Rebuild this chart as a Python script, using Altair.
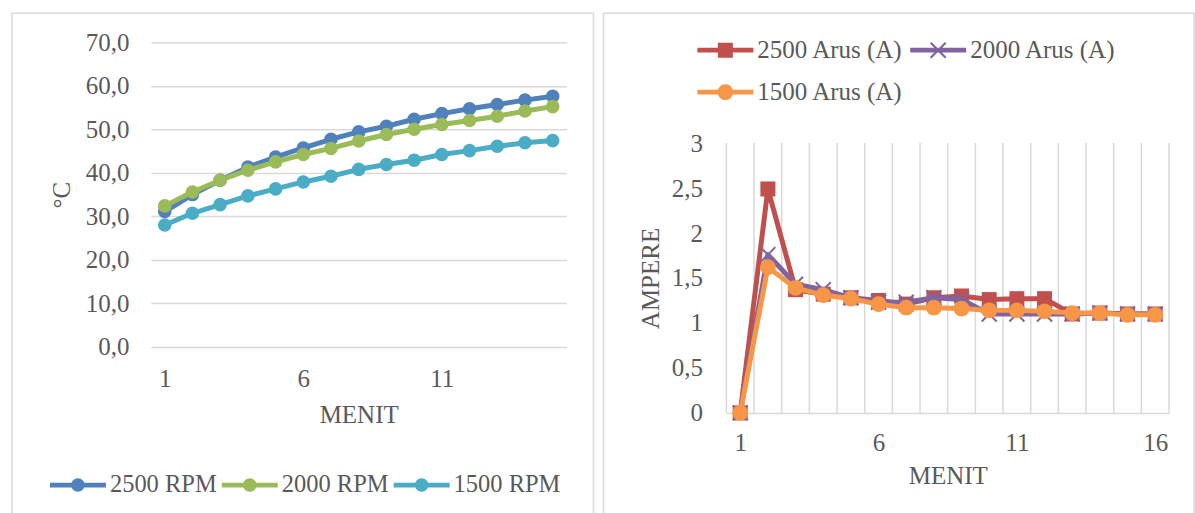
import altair as alt
import pandas as pd

# ---------------- data ----------------
MINUTES_TEMP = list(range(1, 16))
TEMP_SERIES = ["2500 RPM", "2000 RPM", "1500 RPM"]
TEMP_2500 = [31.1, 35.0, 38.3, 41.3, 43.6, 45.7, 47.7, 49.4, 50.7, 52.3, 53.6, 54.7, 55.7, 56.7, 57.6]
TEMP_2000 = [32.4, 35.6, 38.3, 40.6, 42.5, 44.2, 45.6, 47.3, 48.8, 50.0, 51.1, 52.0, 53.0, 54.2, 55.2]
TEMP_1500 = [28.0, 30.7, 32.7, 34.7, 36.3, 37.9, 39.2, 40.8, 41.9, 42.9, 44.2, 45.1, 46.1, 46.9, 47.4]

MINUTES_AMP = list(range(1, 17))
AMP_SERIES = ["2500 Arus (A)", "2000 Arus (A)", "1500 Arus (A)"]
AMP_2500 = [0, 2.49, 1.37, 1.32, 1.28, 1.25, 1.21, 1.28, 1.30, 1.26, 1.27, 1.27, 1.10, 1.11, 1.10, 1.10]
AMP_2000 = [0, 1.76, 1.43, 1.37, 1.28, 1.23, 1.23, 1.28, 1.26, 1.10, 1.10, 1.10, 1.10, 1.11, 1.10, 1.10]
AMP_1500 = [0, 1.62, 1.39, 1.31, 1.27, 1.21, 1.17, 1.17, 1.16, 1.14, 1.14, 1.13, 1.11, 1.11, 1.09, 1.09]

TEMP_TICKS = [0, 10, 20, 30, 40, 50, 60, 70]
AMP_TICKS = [0, 0.5, 1, 1.5, 2, 2.5, 3]
X_TICKS_TEMP = [1, 6, 11]
X_TICKS_AMP = [1, 6, 11, 16]

# ---------------- styles ----------------
FONT = "Liberation Serif"
TXT = "#595959"
GRID = "#D9D9D9"
TEMP_COLORS = ["#4F81BD", "#9BBB59", "#4BACC6"]
AMP_COLORS = ["#C0504D", "#8064A2", "#F79646"]
FS = 25
LW = 5

LINE = "M-1.867,-0.16L1.867,-0.16L1.867,0.16L-1.867,0.16Z"
SYM_CIRCLE_T = LINE + "M-0.45,0A0.45,0.45 0 1,1 0.45,0A0.45,0.45 0 1,1 -0.45,0Z"
SYM_SQUARE = LINE + "M-0.5,-0.5L0.5,-0.5L0.5,0.5L-0.5,0.5Z"
SYM_X = LINE + ("M-0.45,-0.55L0.55,0.45L0.45,0.55L-0.55,-0.45Z"
                "M-0.55,0.45L0.45,-0.55L0.55,-0.45L-0.45,0.55Z")
SYM_CIRCLE_A = LINE + "M-0.52,0A0.52,0.52 0 1,1 0.52,0A0.52,0.52 0 1,1 -0.52,0Z"
X_MARK = "M-1,-1L1,1M-1,1L1,-1"

temp_df = pd.DataFrame({
    "menit": MINUTES_TEMP * 3,
    "suhu": TEMP_2500 + TEMP_2000 + TEMP_1500,
    "seri": [s for s in TEMP_SERIES for _ in MINUTES_TEMP],
})
amp_df = pd.DataFrame({
    "menit": MINUTES_AMP * 3,
    "arus": AMP_2500 + AMP_2000 + AMP_1500,
    "seri": [s for s in AMP_SERIES for _ in MINUTES_AMP],
})

# ---------------- left chart ----------------
WL, HL = 416, 305
sxT = alt.Scale(domain=[0.5, 15.5], nice=False, zero=False)
syT = alt.Scale(domain=[0, 70], nice=False)
axT = alt.Axis(values=X_TICKS_TEMP, grid=False, ticks=False, tickSize=0, domain=False,
               labelPadding=20, labelOverlap=False, labelFlush=False,
               title="MENIT", titleY=68, titleBaseline="middle")
ayT = alt.Axis(values=TEMP_TICKS, grid=True, gridColor=GRID, gridWidth=1.5,
               ticks=False, tickSize=0, domain=False, labelPadding=22,
               labelExpr="replace(format(datum.value, '.1f'), '.', ',')",
               title="°C", titleX=-89, titleBaseline="middle")
xT = alt.X("menit:Q", scale=sxT, axis=axT)
yT = alt.Y("suhu:Q", scale=syT, axis=ayT)

base_t = alt.Chart(temp_df)
t_layers = []
for s, col in zip(TEMP_SERIES, TEMP_COLORS):
    sub = base_t.transform_filter(alt.datum.seri == s)
    t_layers.append(sub.mark_line(strokeWidth=LW, strokeCap="round", strokeJoin="round", color=col)
                    .encode(x=xT, y=yT))
    t_layers.append(sub.mark_point(filled=True, opacity=1, size=185, shape="circle", color=col)
                    .encode(x=xT, y=yT))

leg_t = alt.Legend(title=None, orient="none", legendX=-88, legendY=428, direction="horizontal",
                   columns=3, symbolSize=900, symbolStrokeWidth=0, symbolOpacity=1,
                   labelFont=FONT, labelFontSize=24.5, labelColor=TXT, labelOffset=17,
                   columnPadding=4, padding=0, labelLimit=400)
legend_t = base_t.transform_filter("false").mark_point(filled=True, opacity=1, size=900).encode(
    x=xT, y=yT,
    color=alt.Color("seri:N", scale=alt.Scale(domain=TEMP_SERIES, range=TEMP_COLORS), legend=leg_t),
    shape=alt.Shape("seri:N", scale=alt.Scale(domain=TEMP_SERIES, range=[SYM_CIRCLE_T] * 3), legend=leg_t),
)
frame_t = alt.Chart(pd.DataFrame({"k": [0]})).mark_rect(fillOpacity=0, stroke=GRID, strokeWidth=1.5).encode(
    x=alt.value(-139), x2=alt.value(443), y=alt.value(-29), y2=alt.value(520))

left = alt.layer(*t_layers, legend_t, frame_t).properties(width=WL, height=HL)

# ---------------- right chart ----------------
WR, HR = 443, 371
sxA = alt.Scale(domain=[0.5, 16.5], nice=False, zero=False)
syA = alt.Scale(domain=[0, 3], nice=False, range=[371, 101])
axA = alt.Axis(values=X_TICKS_AMP, grid=False, ticks=False, tickSize=0, domain=True,
               domainColor=GRID, domainWidth=1.5, labelPadding=18, labelOverlap=False,
               labelFlush=False, title="MENIT", titleY=63, titleBaseline="middle")
ayA = alt.Axis(values=AMP_TICKS, grid=False, ticks=False, tickSize=0, domain=False,
               labelPadding=24,
               labelExpr="replace(format(datum.value, '~g'), '.', ',')",
               title="AMPERE", titleX=-76, titleY=236, titleBaseline="middle")
xA = alt.X("menit:Q", scale=sxA, axis=axA)
yA = alt.Y("arus:Q", scale=syA, axis=ayA)

grid_df = pd.DataFrame({"menit": [m - 0.5 for m in MINUTES_AMP] + [MINUTES_AMP[-1] + 0.5]})
grid_df["arus"] = AMP_TICKS[0]
grid_df["top"] = AMP_TICKS[-1]
vgrid = alt.Chart(grid_df).mark_rule(color=GRID, strokeWidth=1.5).encode(x=xA, y=yA, y2="top:Q")

base_a = alt.Chart(amp_df)
marker_marks = {
    AMP_SERIES[0]: dict(filled=True, shape="square", size=225, opacity=1),
    AMP_SERIES[1]: dict(filled=False, shape=X_MARK, size=225, strokeWidth=2, opacity=1),
    AMP_SERIES[2]: dict(filled=True, shape="circle", size=250, opacity=1),
}
a_layers = []
for s, col in zip(AMP_SERIES, AMP_COLORS):
    sub = base_a.transform_filter(alt.datum.seri == s)
    a_layers.append(sub.mark_line(strokeWidth=LW, strokeCap="round", strokeJoin="round", color=col)
                    .encode(x=xA, y=yA))
    a_layers.append(sub.mark_point(color=col, **marker_marks[s]).encode(x=xA, y=yA))

leg_a = alt.Legend(title=None, orient="none", legendX=-16, legendY=-7, direction="horizontal",
                   columns=2, symbolSize=900, symbolStrokeWidth=0, symbolOpacity=1,
                   labelFont=FONT, labelFontSize=FS, labelColor=TXT, labelOffset=17,
                   columnPadding=6, rowPadding=14, padding=0, labelLimit=400)
legend_a = base_a.transform_filter("false").mark_point(filled=True, opacity=1, size=900).encode(
    x=xA, y=yA,
    color=alt.Color("seri:N", scale=alt.Scale(domain=AMP_SERIES, range=AMP_COLORS), legend=leg_a),
    shape=alt.Shape("seri:N", scale=alt.Scale(domain=AMP_SERIES, range=[SYM_SQUARE, SYM_X, SYM_CIRCLE_A]),
                    legend=leg_a),
)
frame_a = alt.Chart(pd.DataFrame({"k": [0]})).mark_rect(fillOpacity=0, stroke=GRID, strokeWidth=1.5).encode(
    x=alt.value(-123), x2=alt.value(468), y=alt.value(-29), y2=alt.value(520))

right = alt.layer(vgrid, *a_layers, legend_a, frame_a).properties(width=WR, height=HR)

chart = alt.hconcat(left, right, spacing=160, bounds="flush").resolve_scale(
    color="independent", shape="independent", x="independent", y="independent"
).resolve_legend(color="independent", shape="independent").properties(
    padding={"left": 11, "top": 12, "right": 0, "bottom": 0},
    autosize=alt.AutoSizeParams(type="pad"),
    background="white",
).configure(font=FONT).configure_view(strokeWidth=0).configure_axis(
    labelFont=FONT, titleFont=FONT, labelFontSize=FS, titleFontSize=FS,
    labelColor=TXT, titleColor=TXT, titleFontWeight="normal",
)

chart.save("out.html", embed_options={"renderer": "svg", "actions": False})
